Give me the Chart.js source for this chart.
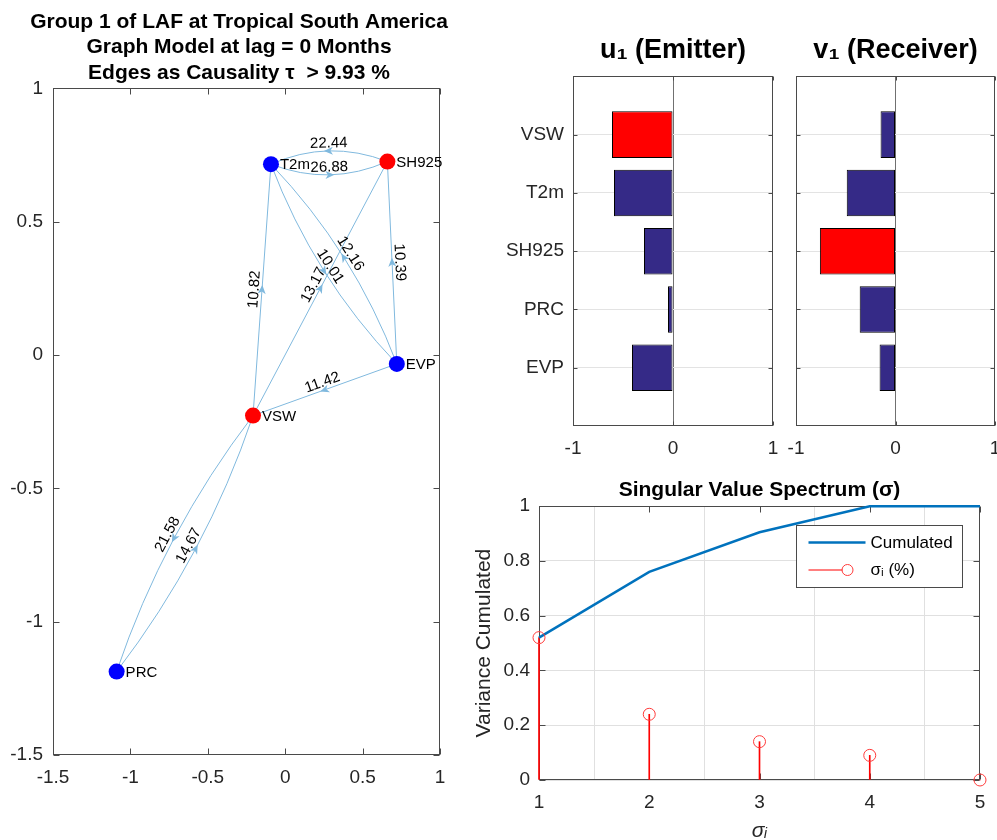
<!DOCTYPE html>
<html>
<head>
<meta charset="utf-8">
<script src="https://cdn.jsdelivr.net/npm/chart.js@4.4.1/dist/chart.umd.min.js"></script>
<style>
  html, body { margin: 0; padding: 0; background: #fff; }
  #wrap { position: relative; width: 997px; height: 840px; overflow: hidden; }
  canvas { position: absolute; }
</style>
</head>
<body>
<div id="wrap">
  <canvas id="graphChart" width="478" height="840" style="left:0px;top:0px"></canvas>
  <canvas id="uChart" width="320" height="460" style="left:460px;top:0px"></canvas>
  <canvas id="vChart" width="217" height="460" style="left:780px;top:0px"></canvas>
  <canvas id="specChart" width="537" height="380" style="left:460px;top:460px"></canvas>
</div>
<script>
// nodes of the graph (layout)
const nodeNames = ['VSW', 'T2m', 'SH925', 'PRC', 'EVP'];
const nodeX = [-0.208, -0.092, 0.660, -1.089, 0.721];
const nodeY = [-0.227, 0.716, 0.726, -1.187, -0.033];

// directed edges: causality in %
const edgeFrom   = ['SH925', 'T2m', 'VSW', 'VSW', 'T2m', 'EVP', 'EVP', 'EVP', 'VSW', 'PRC'];
const edgeTo     = ['T2m', 'SH925', 'T2m', 'SH925', 'EVP', 'T2m', 'SH925', 'VSW', 'PRC', 'VSW'];
const edgeWeight = [22.44, 26.88, 10.82, 13.17, 10.01, 12.16, 10.39, 11.42, 21.58, 14.67];
const threshold = 9.93;

// first singular vectors
const emitterU  = [-0.61, -0.59, -0.29, -0.05, -0.41];
const receiverV = [-0.15, -0.49, -0.76, -0.36, -0.16];

// singular value spectrum
const sigmaIndex   = [1, 2, 3, 4, 5];
const varCumulated = [0.52, 0.76, 0.905, 1.0, 1.0];
const sigmaPct     = [0.52, 0.24, 0.14, 0.09, 0.0];

const FONT = '"Liberation Sans", Arial, Helvetica, sans-serif';
Chart.defaults.font.family = FONT;
const AXIS_TXT = '#262626';
const AXIS_LINE = '#4a4a4a';
const EDGE_COL = '#80b9de';
const NAVY = '#352a87';

// index of the largest |value|
const argMaxAbs = arr => arr.reduce((b, v, i) => Math.abs(v) > Math.abs(arr[b]) ? i : b, 0);
const topEmitter = argMaxAbs(emitterU);
const topReceiver = argMaxAbs(receiverV);
const nodeColors = nodeNames.map((n, i) => (i === topEmitter || i === topReceiver) ? '#ff0000' : '#0000ff');

// matlab style numbers: 1 not 1.0
const num = v => String(+Number(v).toFixed(3));

// box + inward ticks like matlab axes (under the data)
const framePlugin = {
  id: 'frame',
  beforeDatasetsDraw(chart, args, opts) {
    const {ctx, chartArea: a, scales} = chart;
    const len = opts.tick || 6;
    const L = Math.round(a.left) + 0.5, R = Math.round(a.right) - 0.5;
    const T = Math.round(a.top) + 0.5, B = Math.round(a.bottom) - 0.5;
    ctx.save();
    ctx.strokeStyle = AXIS_LINE;
    ctx.lineWidth = 1;
    ctx.strokeRect(L, T, R - L, B - T);
    ctx.beginPath();
    scales.x.ticks.forEach(t => {
      const p = Math.round(scales.x.getPixelForValue(t.value)) + 0.5;
      ctx.moveTo(p, B); ctx.lineTo(p, B - len);
      ctx.moveTo(p, T); ctx.lineTo(p, T + len);
    });
    scales.y.ticks.forEach(t => {
      const p = Math.round(scales.y.getPixelForValue(t.value)) + 0.5;
      ctx.moveTo(L, p); ctx.lineTo(L + len, p);
      ctx.moveTo(R, p); ctx.lineTo(R - len, p);
    });
    ctx.stroke();
    ctx.restore();
  }
};

// edges, arrows and labels of the directed graph
const graphPlugin = {
  id: 'graphEdges',
  beforeDatasetsDraw(chart) {
    const {ctx, scales: {x, y}} = chart;
    const px = name => {
      const i = nodeNames.indexOf(name);
      return {x: x.getPixelForValue(nodeX[i]), y: y.getPixelForValue(nodeY[i])};
    };
    ctx.save();
    edgeFrom.forEach((f, k) => {
      const a = px(f), b = px(edgeTo[k]);
      const dx = b.x - a.x, dy = b.y - a.y, len = Math.hypot(dx, dy);
      const ux = dx / len, uy = dy / len;
      const nx = -uy, ny = ux;
      const twoWay = edgeFrom.some((g, j) => g === edgeTo[k] && edgeTo[j] === f);
      const bend = twoWay ? 12 : 0;
      const cx = (a.x + b.x) / 2 + nx * 2 * bend, cy = (a.y + b.y) / 2 + ny * 2 * bend;
      ctx.strokeStyle = EDGE_COL;
      ctx.lineWidth = 1;
      ctx.beginPath();
      ctx.moveTo(a.x, a.y);
      ctx.quadraticCurveTo(cx, cy, b.x, b.y);
      ctx.stroke();
      // arrow in the middle
      const mx = 0.25 * a.x + 0.5 * cx + 0.25 * b.x;
      const my = 0.25 * a.y + 0.5 * cy + 0.25 * b.y;
      ctx.fillStyle = EDGE_COL;
      ctx.beginPath();
      ctx.moveTo(mx + ux * 5, my + uy * 5);
      ctx.lineTo(mx - ux * 4 + nx * 4, my - uy * 4 + ny * 4);
      ctx.lineTo(mx - ux * 1.5, my - uy * 1.5);
      ctx.lineTo(mx - ux * 4 - nx * 4, my - uy * 4 - ny * 4);
      ctx.closePath();
      ctx.fill();
      // weight label along the edge
      let ang = Math.atan2(uy, ux);
      if (ang > Math.PI / 2) ang -= Math.PI;
      if (ang <= -Math.PI / 2) ang += Math.PI;
      ctx.save();
      ctx.translate(mx, my);
      ctx.rotate(ang);
      ctx.font = '15px ' + FONT;
      ctx.fillStyle = '#000';
      ctx.textAlign = 'center';
      ctx.textBaseline = 'bottom';
      ctx.fillText(edgeWeight[k].toFixed(2), 0, 0);
      ctx.restore();
    });
    ctx.restore();
  },
  afterDatasetsDraw(chart) {
    const {ctx, scales: {x, y}} = chart;
    ctx.save();
    ctx.font = '15px ' + FONT;
    ctx.fillStyle = '#000';
    ctx.textAlign = 'left';
    ctx.textBaseline = 'middle';
    nodeNames.forEach((n, i) => {
      ctx.fillText(n, x.getPixelForValue(nodeX[i]) + 9, y.getPixelForValue(nodeY[i]) + 1);
    });
    ctx.restore();
  }
};

const tickFont = {size: 19};
function fixBox(w, h, padR) {
  return s => {
    if (w !== null) s.width = w;
    if (h !== null) s.height = h;
    s.paddingLeft = 0; s.paddingRight = padR || 0; s.paddingTop = 0; s.paddingBottom = 0;
  };
}

// graph model
new Chart(document.getElementById('graphChart'), {
  type: 'scatter',
  data: {
    datasets: [{
      data: nodeNames.map((n, i) => ({x: nodeX[i], y: nodeY[i]})),
      backgroundColor: nodeColors,
      borderWidth: 0,
      pointRadius: 8,
      pointHoverRadius: 8
    }]
  },
  options: {
    responsive: false,
    animation: false,
    events: [],
    layout: {padding: 0},
    plugins: {
      legend: {display: false},
      tooltip: {enabled: false},
      title: {
        display: true,
        text: ['Group 1 of LAF at Tropical South America',
               'Graph Model at lag = 0 Months',
               'Edges as Causality τ  > ' + threshold + ' %'],
        color: '#000',
        font: {size: 21, weight: 'bold', lineHeight: 1.214},
        padding: {top: 9, bottom: 3}
      },
      frame: {tick: 6}
    },
    scales: {
      x: {
        type: 'linear', min: -1.5, max: 1,
        grid: {display: false, drawTicks: false},
        border: {display: false},
        ticks: {stepSize: 0.5, padding: 11, color: AXIS_TXT, font: tickFont, callback: num},
        afterFit: fixBox(null, 85, 38)
      },
      y: {
        type: 'linear', min: -1.5, max: 1,
        grid: {display: false, drawTicks: false},
        border: {display: false},
        ticks: {stepSize: 0.5, padding: 10, color: AXIS_TXT, font: tickFont, callback: num},
        afterFit: fixBox(53, null)
      }
    }
  },
  plugins: [framePlugin, graphPlugin]
});

// horizontal bars of a singular vector
function vectorChart(id, values, title, showNames, leftW, padRight) {
  const top = argMaxAbs(values);
  return new Chart(document.getElementById(id), {
    type: 'bar',
    data: {
      datasets: [{
        data: values.map((v, i) => ({x: v, y: i + 1})),
        backgroundColor: values.map((v, i) => i === top ? '#ff0000' : NAVY),
        borderColor: '#000',
        borderWidth: 1,
        borderSkipped: false,
        barPercentage: 0.8,
        categoryPercentage: 1
      }]
    },
    options: {
      indexAxis: 'y',
      responsive: false,
      animation: false,
      events: [],
      layout: {padding: {left: 0, right: padRight, top: 0, bottom: 0}},
      plugins: {
        legend: {display: false},
        tooltip: {enabled: false},
        title: {
          display: true, text: title, color: '#000', fullSize: false,
          font: {size: 27, weight: 'bold', lineHeight: 1.2},
          padding: {top: 34, bottom: 10}
        },
        frame: {tick: 4}
      },
      scales: {
        x: {
          type: 'linear', min: -1, max: 1, offset: false,
          grid: {
            drawTicks: false,
            color: c => c.tick && c.tick.value === 0 ? '#707070' : 'rgba(0,0,0,0)'
          },
          border: {display: false},
          ticks: {stepSize: 1, padding: 11, color: AXIS_TXT, font: tickFont, callback: num},
          afterFit: fixBox(null, 34)
        },
        y: {
          type: 'linear', min: 0, max: 6, reverse: true, offset: false,
          afterBuildTicks: s => { s.ticks = nodeNames.map((n, i) => ({value: i + 1})); },
          grid: {drawTicks: false, offset: false, color: '#e3e3e3'},
          border: {display: false},
          ticks: {
            padding: 9, color: AXIS_TXT, font: tickFont,
            callback: (v, i) => showNames ? nodeNames[i] : ''
          },
          afterFit: fixBox(leftW, null)
        }
      }
    },
    plugins: [framePlugin]
  });
}
vectorChart('uChart', emitterU, 'u₁ (Emitter)', true, 113, 7);
vectorChart('vChart', receiverV, 'v₁ (Receiver)', false, 16, 2);

// spectrum legend drawn inside the axes
const specLegend = {
  id: 'specLegend',
  afterDraw(chart) {
    const {ctx, chartArea: a} = chart;
    const w = 166, h = 62;
    const x0 = Math.round(a.right - 18 - w) + 0.5, y0 = Math.round(a.top + 19) + 0.5;
    ctx.save();
    ctx.fillStyle = '#fff';
    ctx.fillRect(x0, y0, w, h);
    ctx.strokeStyle = AXIS_LINE;
    ctx.lineWidth = 1;
    ctx.strokeRect(x0, y0, w, h);
    ctx.font = '17px ' + FONT;
    ctx.fillStyle = '#000';
    ctx.textBaseline = 'middle';
    const ds = chart.data.datasets;
    // line entry
    ctx.strokeStyle = ds[1].borderColor;
    ctx.lineWidth = 2.5;
    ctx.beginPath();
    ctx.moveTo(x0 + 12, y0 + 17); ctx.lineTo(x0 + 69, y0 + 17);
    ctx.stroke();
    ctx.fillText(ds[1].label, x0 + 74, y0 + 18);
    // stem entry
    ctx.strokeStyle = ds[2].backgroundColor;
    ctx.lineWidth = 1;
    ctx.beginPath();
    ctx.moveTo(x0 + 12, y0 + 44.5); ctx.lineTo(x0 + 46, y0 + 44.5);
    ctx.stroke();
    ctx.strokeStyle = ds[0].borderColor;
    ctx.beginPath();
    ctx.arc(x0 + 51, y0 + 44.5, 5.5, 0, Math.PI * 2);
    ctx.stroke();
    ctx.fillText(ds[0].label, x0 + 74, y0 + 45);
    ctx.restore();
  }
};

new Chart(document.getElementById('specChart'), {
  type: 'line',
  data: {
    datasets: [
      {
        label: 'σᵢ (%)',
        data: sigmaIndex.map((s, i) => ({x: s, y: sigmaPct[i]})),
        showLine: false,
        pointStyle: 'circle',
        pointRadius: 6,
        pointHoverRadius: 6,
        borderColor: '#ff3b3b',
        backgroundColor: 'rgba(0,0,0,0)',
        borderWidth: 1,
        clip: false,
        order: 0
      },
      {
        label: 'Cumulated',
        data: sigmaIndex.map((s, i) => ({x: s, y: varCumulated[i]})),
        borderColor: '#0072bd',
        borderWidth: 2.5,
        pointRadius: 0,
        tension: 0,
        clip: false,
        order: 1
      },
      {
        type: 'bar',
        label: 'σᵢ (%)',
        data: sigmaIndex.map((s, i) => ({x: s, y: sigmaPct[i]})),
        backgroundColor: '#ff0000',
        barThickness: 1,
        clip: false,
        order: 2
      }
    ]
  },
  options: {
    responsive: false,
    animation: false,
    events: [],
    layout: {padding: {left: 0, right: 17, top: 0, bottom: 0}},
    plugins: {
      legend: {display: false},
      tooltip: {enabled: false},
      title: {
        display: true, text: 'Singular Value Spectrum (σ)', color: '#000', fullSize: false,
        font: {size: 21, weight: 'bold', lineHeight: 1.2},
        padding: {top: 18, bottom: 3}
      },
      frame: {tick: 6}
    },
    scales: {
      x: {
        type: 'linear', min: 1, max: 5, offset: false,
        grid: {drawTicks: false, color: '#e0e0e0'},
        border: {display: false},
        ticks: {stepSize: 1, padding: 11, color: AXIS_TXT, font: tickFont, callback: num},
        title: {display: true, text: 'σᵢ', color: AXIS_TXT,
                font: {size: 21, style: 'italic', lineHeight: '18px'}, padding: {top: 0, bottom: 0}},
        afterFit: fixBox(null, 60)
      },
      y: {
        type: 'linear', min: 0, max: 1,
        grid: {drawTicks: false, color: '#e0e0e0'},
        border: {display: false},
        ticks: {stepSize: 0.2, padding: 9, color: AXIS_TXT, font: tickFont, callback: num},
        title: {display: true, text: 'Variance Cumulated', color: AXIS_TXT,
                font: {size: 21}, padding: {top: 12, bottom: 0}},
        afterFit: fixBox(79, null)
      }
    }
  },
  plugins: [framePlugin, specLegend]
});
</script>
</body>
</html>
